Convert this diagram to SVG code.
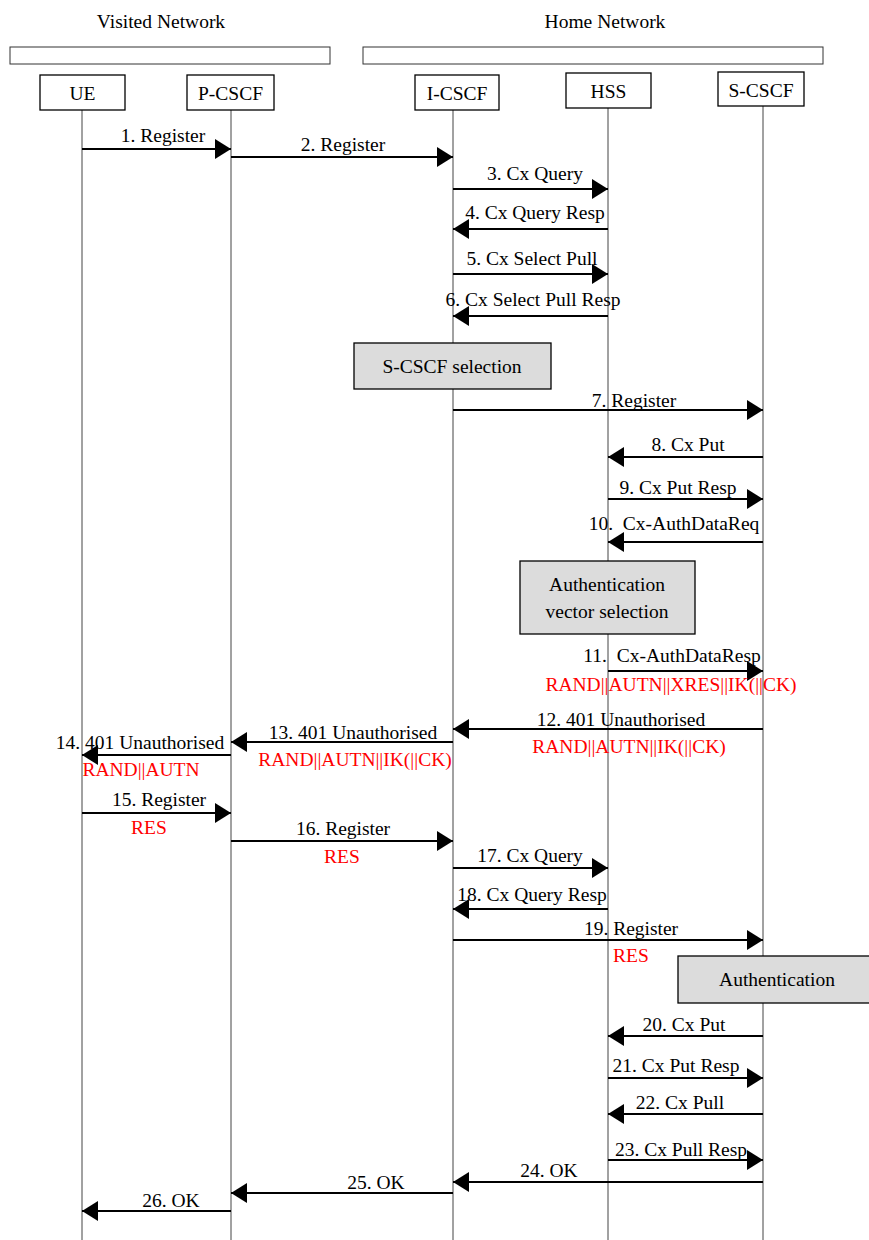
<svg xmlns="http://www.w3.org/2000/svg" width="869" height="1240" viewBox="0 0 869 1240">
<defs>
<marker id="ah" markerUnits="userSpaceOnUse" markerWidth="16" markerHeight="20" viewBox="0 0 16 20" refX="16" refY="10" orient="auto"><path d="M0,0 L16,10 L0,20 z" fill="#000"/></marker>
<style>
text{font-family:"Liberation Serif","Times New Roman",serif;font-size:19.5px;fill:#000;text-anchor:middle}
.red{fill:#ff0000}
.node rect{fill:#fff;stroke:#000;stroke-width:1.3}
.bar{fill:#fff;stroke:#333;stroke-width:1}
.proc{fill:#dcdcdc;stroke:#000;stroke-width:1.3}
.life{stroke:#444;stroke-width:1;fill:none}
.msg{stroke:#000;stroke-width:2;fill:none;marker-end:url(#ah)}
</style>
</defs>
<rect width="869" height="1240" fill="#fff"/>
<g id="headers">
<text x="161" y="28">Visited Network</text>
<text x="605" y="28">Home Network</text>
<rect class="bar" x="10" y="47" width="320" height="17"/>
<rect class="bar" x="363" y="47" width="460" height="17"/>
</g>
<g id="lifelines">
<line class="life" x1="82" y1="110" x2="82" y2="1240"/>
<line class="life" x1="231" y1="110" x2="231" y2="1240"/>
<line class="life" x1="453" y1="110" x2="453" y2="1240"/>
<line class="life" x1="608" y1="108" x2="608" y2="1240"/>
<line class="life" x1="763" y1="106" x2="763" y2="1240"/>
</g>
<g id="UE" class="node"><rect x="40" y="75" width="85" height="35"/><text x="82.5" y="100">UE</text></g>
<g id="P-CSCF" class="node"><rect x="187" y="75" width="87" height="35"/><text x="230.5" y="100">P-CSCF</text></g>
<g id="I-CSCF" class="node"><rect x="415" y="75" width="84" height="35"/><text x="457" y="100">I-CSCF</text></g>
<g id="HSS" class="node"><rect x="566" y="73" width="85" height="35"/><text x="608.5" y="98">HSS</text></g>
<g id="S-CSCF" class="node"><rect x="718" y="72" width="86" height="34"/><text x="761" y="97">S-CSCF</text></g>
<g id="scscf-selection"><rect class="proc" x="354" y="343" width="197" height="46"/><text x="452" y="373">S-CSCF selection</text></g>
<g id="av-selection"><rect class="proc" x="520" y="561" width="175" height="73"/><text x="607" y="591">Authentication</text><text x="607" y="618">vector selection</text></g>
<g id="authentication"><rect class="proc" x="678" y="956" width="196" height="47"/><text x="777" y="986">Authentication</text></g>
<g id="connectors">
<line class="msg" x1="82" y1="149" x2="231" y2="149"/>
<line class="msg" x1="231" y1="157" x2="453" y2="157"/>
<line class="msg" x1="453" y1="189" x2="608" y2="189"/>
<line class="msg" x1="608" y1="229" x2="453" y2="229"/>
<line class="msg" x1="453" y1="274" x2="608" y2="274"/>
<line class="msg" x1="608" y1="316" x2="453" y2="316"/>
<line class="msg" x1="453" y1="410" x2="763" y2="410"/>
<line class="msg" x1="763" y1="457" x2="608" y2="457"/>
<line class="msg" x1="608" y1="499" x2="763" y2="499"/>
<line class="msg" x1="763" y1="542" x2="608" y2="542"/>
<line class="msg" x1="608" y1="671" x2="763" y2="671"/>
<line class="msg" x1="763" y1="729" x2="453" y2="729"/>
<line class="msg" x1="453" y1="742" x2="231" y2="742"/>
<line class="msg" x1="231" y1="755" x2="82" y2="755"/>
<line class="msg" x1="82" y1="813" x2="231" y2="813"/>
<line class="msg" x1="231" y1="841" x2="453" y2="841"/>
<line class="msg" x1="453" y1="868" x2="608" y2="868"/>
<line class="msg" x1="608" y1="909" x2="453" y2="909"/>
<line class="msg" x1="453" y1="940" x2="763" y2="940"/>
<line class="msg" x1="763" y1="1036" x2="608" y2="1036"/>
<line class="msg" x1="608" y1="1078" x2="763" y2="1078"/>
<line class="msg" x1="763" y1="1114" x2="608" y2="1114"/>
<line class="msg" x1="608" y1="1160" x2="763" y2="1160"/>
<line class="msg" x1="763" y1="1182" x2="453" y2="1182"/>
<line class="msg" x1="453" y1="1193" x2="231" y2="1193"/>
<line class="msg" x1="231" y1="1211" x2="82" y2="1211"/>
</g>
<g id="labels">
<text x="163" y="142">1. Register</text>
<text x="343" y="151">2. Register</text>
<text x="535" y="180">3. Cx Query</text>
<text x="535" y="219">4. Cx Query Resp</text>
<text x="532" y="265">5. Cx Select Pull</text>
<text x="533" y="306">6. Cx Select Pull Resp</text>
<text x="634" y="407">7. Register</text>
<text x="688" y="451">8. Cx Put</text>
<text x="678" y="494">9. Cx Put Resp</text>
<text x="674" y="530" xml:space="preserve">10.  Cx-AuthDataReq</text>
<text x="672" y="662" xml:space="preserve">11.  Cx-AuthDataResp</text>
<text class="red" x="671" y="691">RAND||AUTN||XRES||IK(||CK)</text>
<text x="621" y="726">12. 401 Unauthorised</text>
<text class="red" x="629" y="753">RAND||AUTN||IK(||CK)</text>
<text x="353" y="739">13. 401 Unauthorised</text>
<text class="red" x="355" y="766">RAND||AUTN||IK(||CK)</text>
<text x="140" y="749">14. 401 Unauthorised</text>
<text class="red" x="141" y="776">RAND||AUTN</text>
<text x="159" y="806">15. Register</text>
<text class="red" x="149" y="834">RES</text>
<text x="343" y="835">16. Register</text>
<text class="red" x="342" y="863">RES</text>
<text x="530" y="862">17. Cx Query</text>
<text x="532" y="901">18. Cx Query Resp</text>
<text x="631" y="935">19. Register</text>
<text class="red" x="631" y="962">RES</text>
<text x="684" y="1031">20. Cx Put</text>
<text x="676" y="1072">21. Cx Put Resp</text>
<text x="680" y="1109">22. Cx Pull</text>
<text x="681" y="1156">23. Cx Pull Resp</text>
<text x="549" y="1177">24. OK</text>
<text x="376" y="1189">25. OK</text>
<text x="171" y="1207">26. OK</text>
</g>
</svg>
